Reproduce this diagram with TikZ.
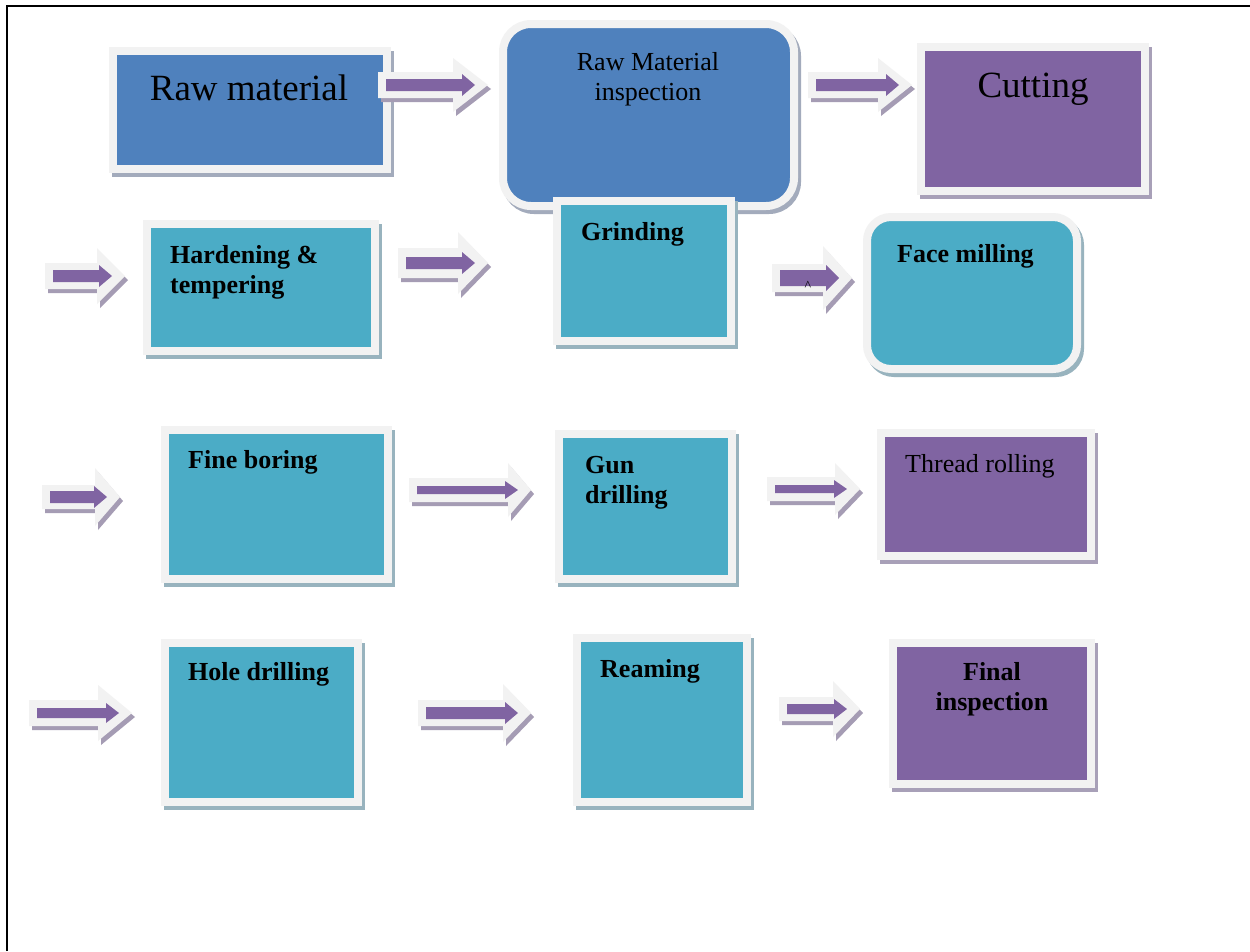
\documentclass[tikz,border=0pt]{standalone}
\usepackage{fontspec}
\setmainfont{Liberation Serif}
\usetikzlibrary{shadows}

\definecolor{stageblue}{HTML}{4F81BD}
\definecolor{stagepurple}{HTML}{8064A2}
\definecolor{stageteal}{HTML}{4BACC6}
\definecolor{rimgray}{HTML}{F2F2F2}
\definecolor{shblue}{HTML}{A3ABBC}
\definecolor{shpurple}{HTML}{A8A0B8}
\definecolor{shteal}{HTML}{98B3BE}
\definecolor{sharrow}{HTML}{A59CB4}

\tikzset{
  stage/.style={draw=rimgray, line width=8pt, inner sep=0pt, outer sep=0pt},
  blue stage/.style={stage, fill=stageblue,
    drop shadow={shadow xshift=3pt, shadow yshift=-4pt, opacity=1, fill=shblue, draw=shblue, line width=8pt}},
  purple stage/.style={stage, fill=stagepurple,
    drop shadow={shadow xshift=3pt, shadow yshift=-4pt, opacity=1, fill=shpurple, draw=shpurple, line width=8pt}},
  teal stage/.style={stage, fill=stageteal,
    drop shadow={shadow xshift=3pt, shadow yshift=-4pt, opacity=1, fill=shteal, draw=shteal, line width=8pt}},
  big/.style={font=\fontsize{37}{42}\selectfont, inner sep=0pt},
  plain/.style={font=\fontsize{26}{30}\selectfont, inner sep=0pt},
  heavy/.style={font=\fontsize{26}{30}\selectfont\bfseries, inner sep=0pt},
}

\begin{document}
\begin{tikzpicture}[x=1pt,y=-1pt]
\useasboundingbox (0,0) rectangle (1250,951);
\fill[white] (0,0) rectangle (1250,951);

% page frame
\draw[line width=2pt] (7,951) -- (7,6) -- (1250,6);

% first row
\node[blue stage, minimum width=274pt, minimum height=118pt] (raw) at (250,110) {};
\node[blue stage, rounded corners=28pt, minimum width=291pt, minimum height=182pt] (insp) at (648.5,115) {};
\node[purple stage, minimum width=224pt, minimum height=144pt] (cut) at (1033,119) {};

% second row
\node[teal stage, minimum width=228pt, minimum height=127pt] (hard) at (261,287.5) {};
\node[teal stage, minimum width=174pt, minimum height=140pt] (grind) at (644,271) {};
\node[teal stage, rounded corners=24pt, minimum width=210pt, minimum height=152pt] (face) at (972,293) {};

% third row
\node[teal stage, minimum width=223pt, minimum height=149pt] (fine) at (276.5,504.5) {};
\node[teal stage, minimum width=173pt, minimum height=145pt] (gun) at (645.5,506.5) {};
\node[purple stage, minimum width=210pt, minimum height=123pt] (thread) at (986,494.5) {};

% fourth row
\node[teal stage, minimum width=193pt, minimum height=159pt] (hole) at (261.5,722.5) {};
\node[teal stage, minimum width=170pt, minimum height=164pt] (ream) at (662,720) {};
\node[purple stage, minimum width=198pt, minimum height=141pt] (final) at (992,713.5) {};

% labels (two-line labels sit on the baseline of their last line)
\node[big, anchor=base] (raw-t) at (249,100) {Raw material};
\node[plain, anchor=base, align=center] (insp-t) at (648,100) {Raw Material\\inspection};
\node[big, anchor=base] (cut-t) at (1033,97) {Cutting};
\node[heavy, anchor=base west, align=left] (hard-t) at (170,293) {Hardening \&\\tempering};
\node[heavy, anchor=base west] (grind-t) at (581,240) {Grinding};
\node[heavy, anchor=base west] (face-t) at (897,262) {Face milling};
\node[heavy, anchor=base west] (fine-t) at (188,468) {Fine boring};
\node[heavy, anchor=base west, align=left] (gun-t) at (585,503) {Gun\\drilling};
\node[plain, anchor=base west] (thread-t) at (905,472) {Thread rolling};
\node[heavy, anchor=base west] (hole-t) at (188,680) {Hole drilling};
\node[heavy, anchor=base west] (ream-t) at (600,677) {Reaming};
\node[heavy, anchor=base, align=center] (final-t) at (992,710) {Final\\inspection};

% block arrows: tail / head start / tip / centre / shaft half / head half / inner shaft half
\foreach \xt/\xh/\xp/\yc/\sh/\hh/\ps in {
    378/453/488/85/13/27/6, 808/878/912/85/13/27/6,
    45/97/125/276/13/28/6, 398/458/488/263/15/31/6, 772/823/852/278/14/32/8,
    42/95/120/497/12/29/6, 409/508/531/490/12/27/4, 767/835/860/489/12/26/4,
    29/98/132/713/13/28/5, 418/503/531/713/13/29/6, 779/833/860/709/12/28/5} {
  \fill[sharrow, shift={(3,4)}] (\xt,\yc-\sh) -- (\xh,\yc-\sh) -- (\xh,\yc-\hh) -- (\xp,\yc)
    -- (\xh,\yc+\hh) -- (\xh,\yc+\sh) -- (\xt,\yc+\sh) -- cycle;
  \fill[rimgray] (\xt,\yc-\sh) -- (\xh,\yc-\sh) -- (\xh,\yc-\hh) -- (\xp,\yc)
    -- (\xh,\yc+\hh) -- (\xh,\yc+\sh) -- (\xt,\yc+\sh) -- cycle;
  \fill[stagepurple] (\xt+8,\yc-\ps) -- (\xp-26,\yc-\ps) -- (\xp-26,\yc-\ps-5) -- (\xp-13,\yc)
    -- (\xp-26,\yc+\ps+5) -- (\xp-26,\yc+\ps) -- (\xt+8,\yc+\ps) -- cycle;
}

% stray mark inside the arrow before face milling
\node[inner sep=0pt, font=\fontsize{14}{14}\selectfont] (mark) at (808,286) {\^{}};
\end{tikzpicture}
\end{document}
